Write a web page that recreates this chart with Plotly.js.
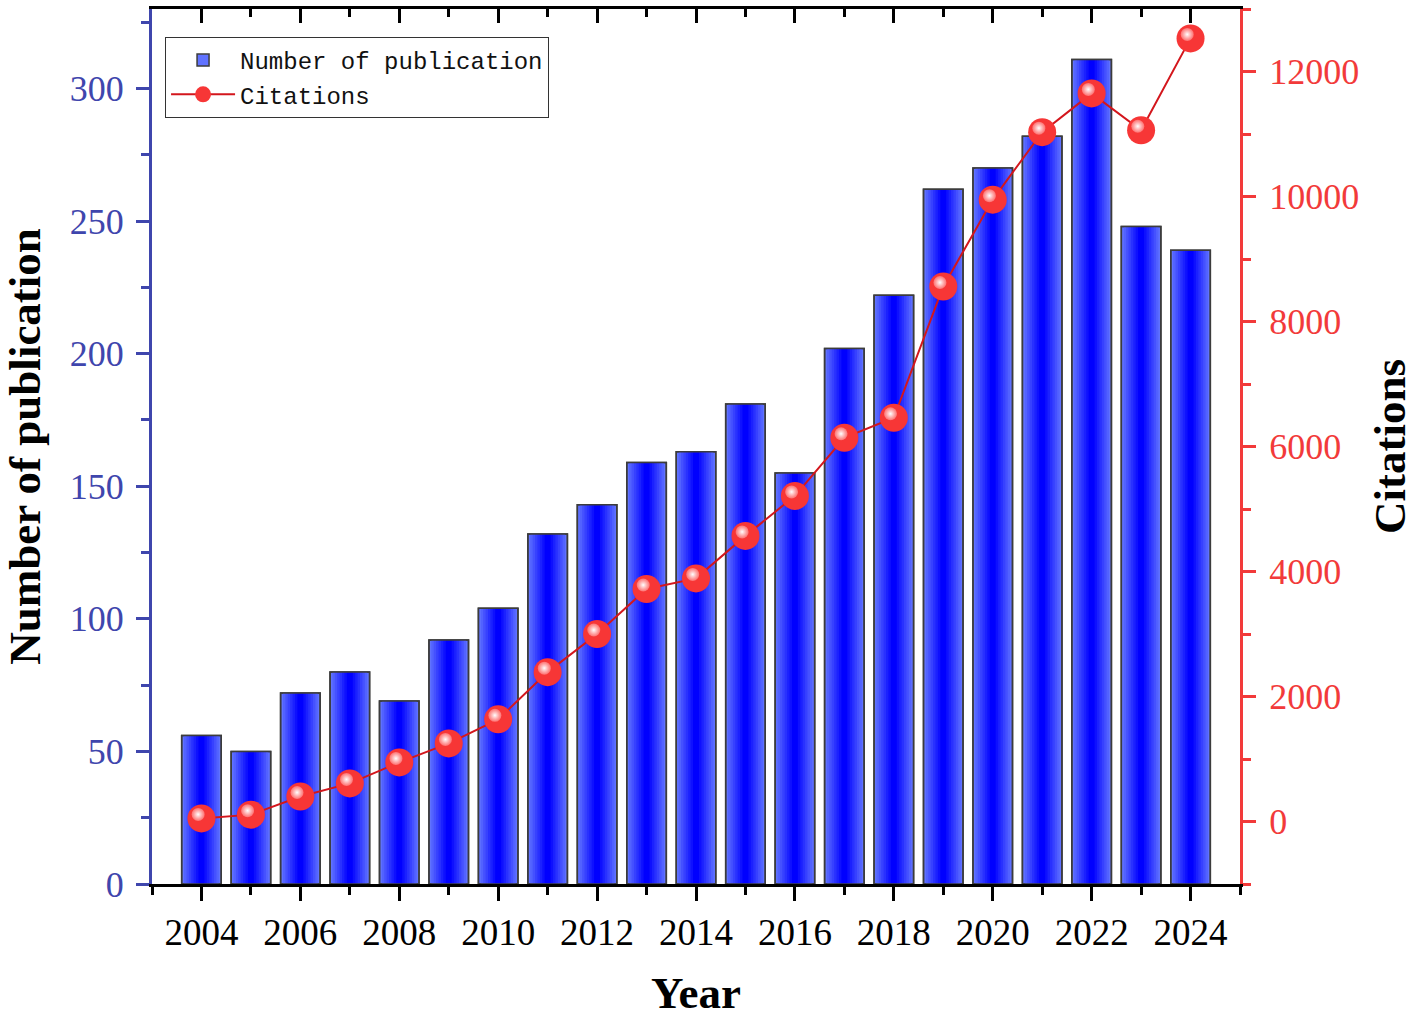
<!DOCTYPE html>
<html>
<head>
<meta charset="utf-8">
<script src="https://cdn.plot.ly/plotly-3.0.1.min.js"></script>
<style>
  html, body { margin: 0; padding: 0; background: #fff; }
  #chart { width: 1418px; height: 1018px; }
</style>
</head>
<body>
<div id="chart"></div>
<script>
var years = [2004, 2005, 2006, 2007, 2008, 2009, 2010, 2011, 2012, 2013, 2014,
             2015, 2016, 2017, 2018, 2019, 2020, 2021, 2022, 2023, 2024];
var publications = [56, 50, 72, 80, 69, 92, 104, 132, 143, 159, 163,
                    181, 155, 202, 222, 262, 270, 282, 311, 248, 239];
var citations = [50, 110, 400, 610, 945, 1250, 1635, 2390, 3000, 3720, 3890,
                 4570, 5210, 6140, 6460, 8560, 9950, 11030, 11650, 11060, 12530];

var serif = "Liberation Serif, Times New Roman, serif";
var mono = "Liberation Mono, Courier New, monospace";
var blueAxis = "#3f46ad";
var redAxis = "#f23a3a";

var data = [];

// base bar (light edge colour) - this one carries the legend entry
data.push({
    type: "bar",
    name: "Number of publication",
    x: years,
    y: publications,
    width: 0.8,
    marker: {color: "#6072ff", line: {color: "#3c3c3c", width: 1.5}},
    hoverinfo: "x+y"
});

// narrower bars on top to fake the horizontal gradient
var steps = 7;
for (let i = 1; i <= steps; i++) {
    var t = i / steps;
    var r = Math.round(96 * (1 - t));
    var g = Math.round(114 * (1 - t));
    data.push({
        type: "bar",
        x: years,
        y: publications,
        width: 0.8 * (1 - t * 0.85),
        marker: {color: "rgb(" + r + "," + g + ",255)", line: {width: 0}},
        showlegend: false,
        hoverinfo: "skip"
    });
}

// outline on top
data.push({
    type: "bar",
    x: years,
    y: publications,
    width: 0.8,
    marker: {color: "rgba(0,0,0,0)", line: {color: "#3c3c3c", width: 1.5}},
    showlegend: false,
    hoverinfo: "skip"
});

data.push({
    type: "scatter",
    mode: "lines+markers",
    name: "Citations",
    x: years,
    y: citations,
    yaxis: "y2",
    line: {color: "#d3161c", width: 2},
    marker: {color: "#f73636", size: 28, line: {width: 0}}
});

// small highlight on each sphere, drawn on shifted hidden axes
data.push({
    type: "scatter",
    mode: "markers",
    x: years,
    y: citations,
    xaxis: "x2",
    yaxis: "y3",
    marker: {
        color: "rgba(255,120,120,0.9)",
        size: 13,
        line: {width: 0},
        gradient: {type: "radial", color: "#ffffff"}
    },
    showlegend: false,
    hoverinfo: "skip"
});

// invisible trace so the top (mirror) axis gets drawn
data.push({
    type: "scatter",
    mode: "markers",
    x: [years[0]],
    y: [publications[0]],
    xaxis: "x3",
    yaxis: "y",
    marker: {opacity: 0},
    showlegend: false,
    hoverinfo: "skip"
});

var xRange = [2003, 2025];
var yRange = [0, 330];
var y2Range = [-1000, 13000];

var layout = {
    width: 1418,
    height: 1018,
    margin: {l: 152, r: 178, t: 9, b: 134},
    paper_bgcolor: "#fff",
    plot_bgcolor: "#fff",
    barmode: "overlay",
    showlegend: true,
    legend: {
        x: 0.012,
        y: 0.968,
        xanchor: "left",
        yanchor: "top",
        bgcolor: "#fff",
        bordercolor: "#333",
        borderwidth: 1,
        itemwidth: 64,
        tracegroupgap: 0,
        font: {family: mono, size: 24, color: "#111"}
    },
    xaxis: {
        range: xRange,
        tick0: 2004,
        dtick: 2,
        ticks: "outside",
        ticklen: 14,
        tickwidth: 3,
        tickcolor: "#000",
        minor: {dtick: 1, tick0: 2003, ticks: "outside", ticklen: 8, tickwidth: 3, tickcolor: "#000"},
        showline: true,
        linecolor: "#000",
        linewidth: 3,
        showgrid: false,
        zeroline: false,
        tickfont: {family: serif, size: 37, color: "#000"},
        title: {text: "<b>Year</b>", font: {family: serif, size: 45, color: "#000"}, standoff: 32}
    },
    xaxis2: {
        overlaying: "x",
        range: [xRange[0] + 0.067, xRange[1] + 0.067],
        visible: false
    },
    xaxis3: {
        overlaying: "x",
        side: "top",
        range: xRange,
        tick0: 2004,
        dtick: 2,
        ticks: "inside",
        ticklen: 14,
        tickwidth: 3,
        tickcolor: "#000",
        minor: {dtick: 1, tick0: 2003, ticks: "inside", ticklen: 8, tickwidth: 3, tickcolor: "#000"},
        showline: true,
        linecolor: "#000",
        linewidth: 3,
        showgrid: false,
        zeroline: false,
        showticklabels: false
    },
    yaxis: {
        range: yRange,
        tick0: 0,
        dtick: 50,
        ticks: "outside",
        ticklen: 13,
        tickwidth: 3,
        tickcolor: blueAxis,
        minor: {dtick: 25, ticks: "outside", ticklen: 8, tickwidth: 3, tickcolor: blueAxis},
        showline: true,
        linecolor: blueAxis,
        linewidth: 3,
        showgrid: false,
        zeroline: false,
        ticklabelstandoff: 5,
        tickfont: {family: serif, size: 36, color: blueAxis},
        title: {text: "<b>Number of publication</b>", font: {family: serif, size: 45, color: "#000"}, standoff: 22}
    },
    yaxis2: {
        overlaying: "y",
        side: "right",
        range: y2Range,
        tick0: 0,
        dtick: 2000,
        tickformat: "d",
        ticks: "outside",
        ticklen: 13,
        tickwidth: 3,
        tickcolor: redAxis,
        minor: {dtick: 1000, ticks: "outside", ticklen: 8, tickwidth: 3, tickcolor: redAxis},
        showline: true,
        linecolor: redAxis,
        linewidth: 3,
        showgrid: false,
        zeroline: false,
        ticklabelstandoff: 6,
        tickfont: {family: serif, size: 36, color: redAxis},
        title: {text: "<b>Citations</b>", font: {family: serif, size: 45, color: "#000"}, standoff: 16}
    },
    yaxis3: {
        overlaying: "y",
        range: [y2Range[0] - 64, y2Range[1] - 64],
        visible: false
    }
};

Plotly.newPlot("chart", data, layout, {displayModeBar: false, staticPlot: true});
</script>
</body>
</html>
